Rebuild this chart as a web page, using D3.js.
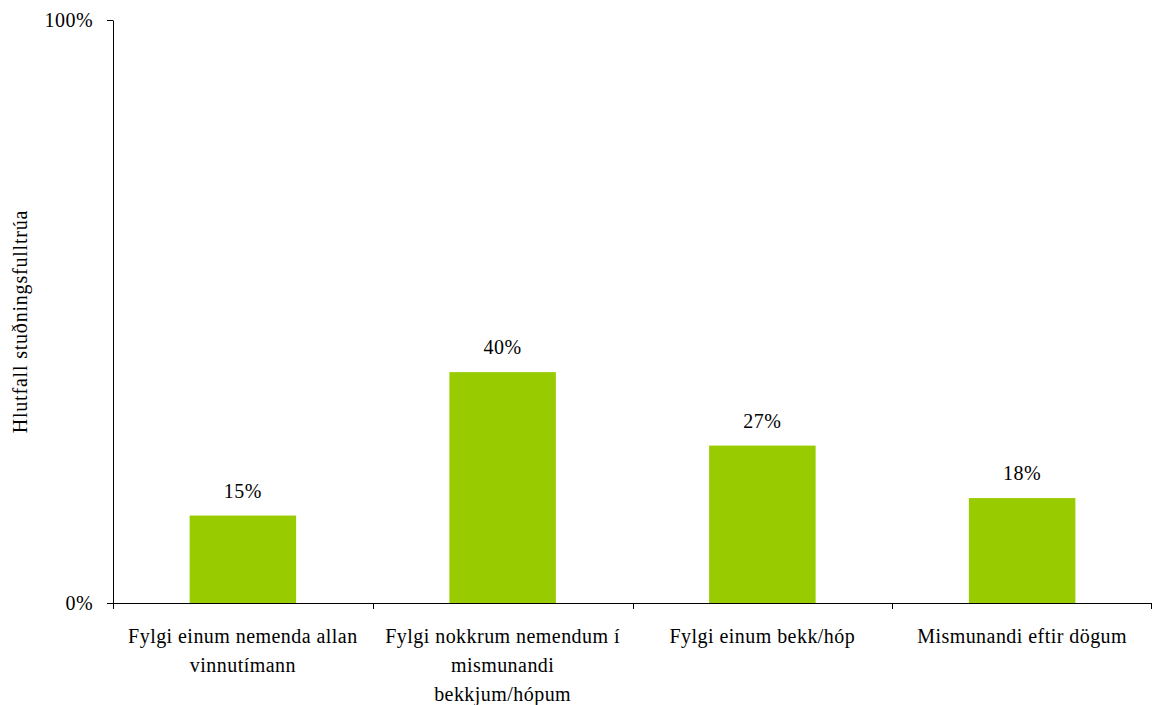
<!DOCTYPE html>
<html><head><meta charset="utf-8">
<script src="https://cdn.jsdelivr.net/npm/d3@7"></script>
<style>body{margin:0;background:#fff}svg{display:block}</style>
</head><body><svg id="c" width="1152" height="705"></svg>
<script>
const categories = ["Fylgi einum nemenda allan|vinnutímann", "Fylgi nokkrum nemendum í|mismunandi|bekkjum/hópum", "Fylgi einum bekk/hóp", "Mismunandi eftir dögum"];
const values = [0.15, 0.396, 0.27, 0.18];
const valueLabels = ["15%", "40%", "27%", "18%"];
const yTicks = [0, 1];
const yTickLabels = ["0%", "100%"];
const yTitle = "Hlutfall stuðningsfulltrúa";

const FF = "Liberation Serif";
const FS = 20;
const LS = 0.45;
const svg = d3.select("#c");
const m = {l:113, r:1152, t:20, b:603};
const x = d3.scaleBand().domain(categories).range([m.l, m.r]).paddingInner(0.59).paddingOuter(0.295);
const xb = d3.scaleBand().domain(categories).range([m.l, m.r]);
const y = d3.scaleLinear().domain([0,1]).range([m.b, m.t]);

function txt(sel){ return sel.style("font-family",FF).style("font-size",FS+"px").style("letter-spacing",LS+"px").attr("fill","#000"); }

svg.selectAll("rect.bar").data(values).enter().append("rect")
  .attr("x",(d,i)=>x(categories[i])).attr("width",x.bandwidth())
  .attr("y",d=>y(d)).attr("height",d=>y(0)-y(d)).attr("fill","#99cc00");

svg.selectAll("text.vl").data(values).enter().append("text")
  .attr("x",(d,i)=>x(categories[i])+x.bandwidth()/2).attr("y",d=>y(d)-18)
  .attr("text-anchor","middle").text((d,i)=>valueLabels[i]).call(txt);

// y axis
const ya = svg.append("g").attr("transform",`translate(${m.l},0)`)
  .call(d3.axisLeft(y).tickValues(yTicks).tickFormat((d,i)=>yTickLabels[i]).tickSize(6).tickSizeOuter(0).tickPadding(14));
ya.attr("font-family", null).attr("font-size", null);
ya.select(".domain").attr("stroke","#000");
ya.selectAll("line").attr("stroke","#000");
ya.selectAll("text").call(txt);

// x axis line + ticks at band boundaries
svg.append("line").attr("x1",m.l).attr("x2",m.r).attr("y1",m.b+0.5).attr("y2",m.b+0.5).attr("stroke","#000");
const bounds = categories.map(c=>xb(c)).concat([m.r-1]);
svg.selectAll("line.xt").data(bounds).enter().append("line")
  .attr("x1",d=>Math.round(d)+0.5).attr("x2",d=>Math.round(d)+0.5).attr("y1",m.b).attr("y2",m.b+6).attr("stroke","#000");

// category labels
categories.forEach(c=>{
  const cx = xb(c)+xb.bandwidth()/2;
  const t = svg.append("text").attr("text-anchor","middle").attr("x",cx).attr("y",643).call(txt);
  c.split("|").forEach((ln,j)=>t.append("tspan").attr("x",cx).attr("dy",j?29:0).text(ln));
});

svg.append("text").attr("transform",`translate(27,${(m.t+m.b)/2+10}) rotate(-90)`)
  .attr("text-anchor","middle").text(yTitle).call(txt).style("letter-spacing","0.8px");
</script></body></html>
